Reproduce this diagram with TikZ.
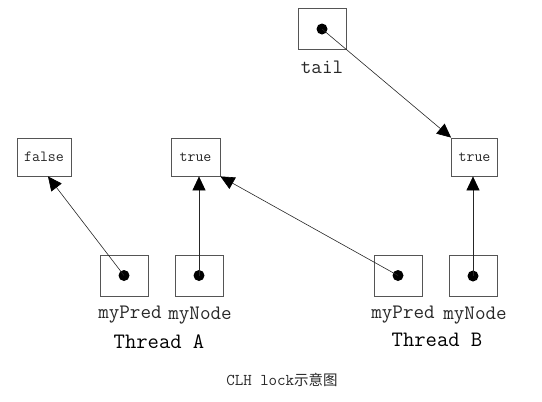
\documentclass[tikz,border=0pt]{standalone}
\usepackage{fontspec}
\newfontfamily\cjk{Noto Sans CJK SC}
\usetikzlibrary{arrows.meta}
\definecolor{boxgray}{RGB}{85,85,85}
\definecolor{txt}{RGB}{40,40,40}
\begin{document}
\begin{tikzpicture}[x=1pt,y=-1pt,
  valbox/.style={draw=boxgray,line width=0.8pt,minimum height=38pt,inner sep=0pt,
    font=\ttfamily\fontsize{15.5}{15.5}\selectfont,text=txt},
  ptrbox/.style={draw=boxgray,line width=0.8pt,minimum width=48pt,minimum height=41pt,inner sep=0pt},
  ptrdot/.style={circle,fill=black,minimum size=11pt,inner sep=0pt},
  lbl/.style={font=\ttfamily\fontsize{20.5}{20.5}\selectfont,text=txt,inner sep=0pt},
  thr/.style={font=\ttfamily\fontsize{22}{22}\selectfont,text=black,inner sep=0pt},
  arr/.style={draw=black!85,line width=0.6pt,-{Triangle[length=14pt,width=13pt,color=black]}}]
\useasboundingbox (0,0) rectangle (542,402);
% value boxes
\node[valbox,minimum width=54pt] (fA) at (44,157) {false};
\node[valbox,minimum width=49pt] (tA) at (195.5,157) {true};
\node[valbox,minimum width=46pt] (tB) at (474.5,157) {true};
% pointer boxes
\node[ptrbox] (tail) at (322,29) {};
\node[ptrbox] (pA) at (124,275.5) {};
\node[ptrbox] (nA) at (199,275.5) {};
\node[ptrbox] (pB) at (398,275.5) {};
\node[ptrbox] (nB) at (473,276) {};
% dots
\node[ptrdot] (dTail) at (tail.center) {};
\node[ptrdot] (dpA) at (pA.center) {};
\node[ptrdot] (dnA) at (nA.center) {};
\node[ptrdot] (dpB) at (pB.center) {};
\node[ptrdot] (dnB) at (nB.center) {};
% arrows
\draw[arr] (dpA.center) -- ([xshift=4pt]fA.south);
\draw[arr] (dnA.center) -- (dnA.center |- tA.south);
\draw[arr] (dpB.center) -- (tA.south east);
\draw[arr] (dTail.center) -- (tB.north west);
\draw[arr] (dnB.center) -- (dnB.center |- tB.south);
% labels
\node[lbl] (lTail) at (322,67) {tail};
\node[lbl] (lpA) at (130,315) {myPred};
\node[lbl] (lnA) at (200,316) {myNode};
\node[thr] (thA) at (159,342) {Thread A};
\node[lbl] (lpB) at (403,315) {myPred};
\node[lbl] (lnB) at (475,316) {myNode};
\node[thr] (thB) at (437,340) {Thread B};
\node[inner sep=0pt,text=txt] (cap) at (282,380) {\ttfamily\fontsize{16.5}{16.5}\selectfont CLH lock\cjk\fontsize{14.5}{14.5}\selectfont 示意图};
\end{tikzpicture}
\end{document}
